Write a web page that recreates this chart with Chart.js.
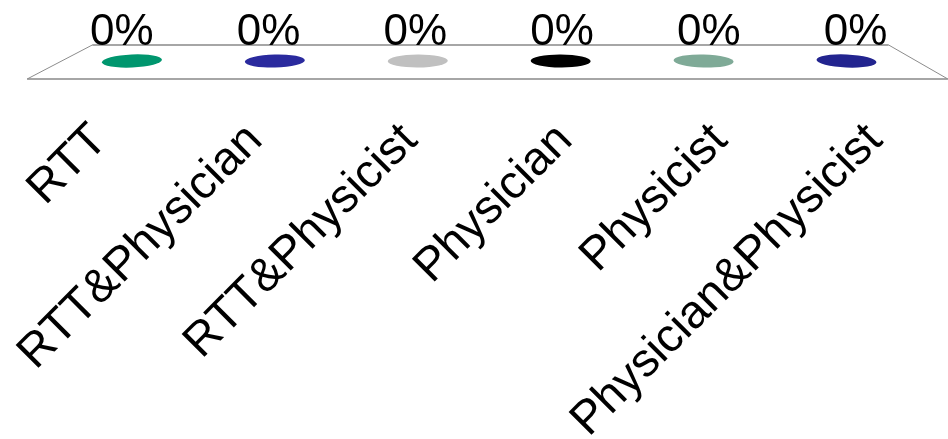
<!DOCTYPE html>
<html>
<head>
<meta charset="utf-8">
<script src="https://cdn.jsdelivr.net/npm/chart.js@4/dist/chart.umd.min.js"></script>
<style>
  html, body { margin: 0; padding: 0; background: #fff; }
  #wrap { width: 948px; height: 439px; }
</style>
</head>
<body>
<div id="wrap"><canvas id="chart"></canvas></div>
<script>
const categories = ['RTT', 'RTT&Physician', 'RTT&Physicist', 'Physician', 'Physicist', 'Physician&Physicist'];
const percentValues = [0, 0, 0, 0, 0, 0];
const barColors = ['#00966e', '#2a2a9e', '#c0c0c0', '#000000', '#7faa97', '#22248f'];

// depth factors for the fake 3d floor (1 = front edge)
const BACK_DEPTH = 0.865;
const BAR_DEPTH = 0.922;
const LABEL_DEPTH = 0.947;
const FLOOR_HALF = 17;
const VANISH_SHIFT = 22;

// shrink x toward a vanishing point a little right of the plot centre
function project(x, cx, k) {
  const vx = cx + VANISH_SHIFT;
  return vx + (x - vx) * k;
}

// floor parallelogram under the bars
const floorPlugin = {
  id: 'floor',
  beforeDatasetsDraw(chart) {
    const { ctx, chartArea, scales } = chart;
    const xs = scales.x;
    const y0 = scales.y.getPixelForValue(0);
    const cx = (chartArea.left + chartArea.right) / 2;
    const fl = xs.getPixelForValue(-0.47);
    const fr = xs.getPixelForValue(categories.length - 1 + 0.47);
    const bl = project(fl, cx, BACK_DEPTH);
    const br = project(fr, cx, BACK_DEPTH);
    const yb = y0 - FLOOR_HALF, yf = y0 + FLOOR_HALF;

    ctx.save();
    ctx.fillStyle = '#ffffff';
    ctx.beginPath();
    ctx.moveTo(bl, yb);
    ctx.lineTo(br, yb);
    ctx.lineTo(fr, yf);
    ctx.lineTo(fl, yf);
    ctx.closePath();
    ctx.fill();

    ctx.strokeStyle = '#a6a6a6';
    ctx.lineWidth = 2;
    ctx.beginPath();
    ctx.moveTo(bl, yb);
    ctx.lineTo(br, yb);
    ctx.moveTo(fl, yf);
    ctx.lineTo(fr, yf);
    ctx.stroke();

    ctx.strokeStyle = '#8c8c8c';
    ctx.lineWidth = 1;
    ctx.beginPath();
    ctx.moveTo(bl, yb);
    ctx.lineTo(fl, yf);
    ctx.moveTo(br, yb);
    ctx.lineTo(fr, yf);
    ctx.stroke();
    ctx.restore();
  }
};

// bar tops as flat ellipses plus the percent labels
const barTopPlugin = {
  id: 'barTops',
  afterDatasetsDraw(chart) {
    const { ctx, chartArea, scales } = chart;
    const cx = (chartArea.left + chartArea.right) / 2;
    const half = (chartArea.right - chartArea.left) / 2;
    ctx.save();
    percentValues.forEach((v, i) => {
      const xt = scales.x.getPixelForValue(i);
      const y = scales.y.getPixelForValue(v);
      const xe = project(xt, cx, BAR_DEPTH);
      const tilt = 0.045 * (xt - cx) / half;
      ctx.fillStyle = barColors[i];
      ctx.beginPath();
      ctx.ellipse(xe, y - 1, 30, 6.5, tilt, 0, Math.PI * 2);
      ctx.fill();

      ctx.fillStyle = '#000';
      ctx.font = '44px "Liberation Sans", Arial, sans-serif';
      ctx.textAlign = 'center';
      ctx.textBaseline = 'alphabetic';
      ctx.fillText(v + '%', project(xt, cx, LABEL_DEPTH), y - FLOOR_HALF);
    });
    ctx.restore();
  }
};

new Chart(document.getElementById('chart'), {
  type: 'bar',
  data: {
    labels: categories,
    datasets: [{
      data: percentValues,
      backgroundColor: barColors,
      borderWidth: 0
    }]
  },
  options: {
    responsive: true,
    maintainAspectRatio: false,
    animation: false,
    events: [],
    layout: { padding: { top: 10, left: 100, right: 73, bottom: 0 } },
    plugins: {
      legend: { display: false },
      tooltip: { enabled: false }
    },
    scales: {
      x: {
        offset: false,
        // invisible tick marks only push the labels down below the floor
        grid: {
          drawOnChartArea: false,
          tickLength: 48,
          tickColor: 'rgba(0,0,0,0)'
        },
        border: { display: false },
        afterFit(scale) { scale.height = 377; },
        ticks: {
          autoSkip: false,
          minRotation: 45,
          maxRotation: 45,
          padding: 3,
          color: '#000',
          font: { family: '"Liberation Sans", Arial, sans-serif', size: 47 }
        }
      },
      y: {
        display: false,
        min: 0,
        max: 100
      }
    }
  },
  plugins: [floorPlugin, barTopPlugin]
});
</script>
</body>
</html>
